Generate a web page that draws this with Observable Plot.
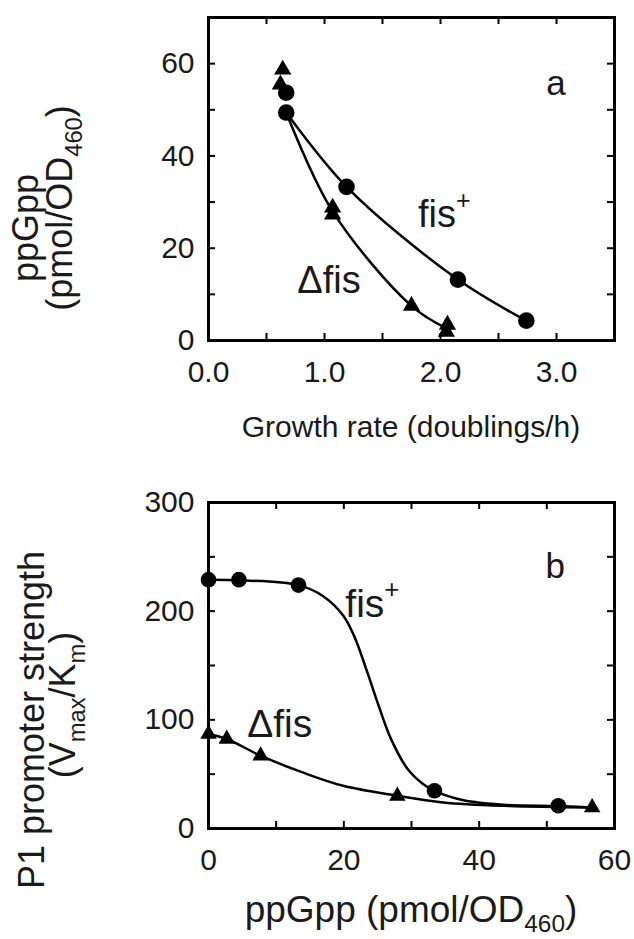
<!DOCTYPE html>
<html>
<head>
<meta charset="utf-8">
<script src="https://cdn.jsdelivr.net/npm/d3@7"></script>
<script src="https://cdn.jsdelivr.net/npm/@observablehq/plot@0.6"></script>
<style>
  html, body { margin: 0; padding: 0; background: #fff; }
  #chart { width: 634px; }
  #chart svg { display: block; }
</style>
</head>
<body>
<div id="chart"></div>
<script>
// ---------- Panel a: ppGpp level vs growth rate ----------
const aFisPlusRate   = [0.67, 0.67, 1.19, 2.15, 2.74];
const aFisPlusPpGpp  = [53.7, 49.4, 33.3, 13.2, 4.3];
const aDeltaFisRate  = [0.64, 0.62, 1.07, 1.07, 1.75, 2.06, 2.05];
const aDeltaFisPpGpp = [58.7, 55.5, 28.8, 27.3, 7.5, 3.4, 1.9];
// fitted lines
const aFisPlusFitRate   = [0.67, 1.19, 2.15, 2.74];
const aFisPlusFitPpGpp  = [49.4, 33.3, 13.2, 4.3];
const aDeltaFisFitRate  = [0.67, 1.07, 1.75, 2.06];
const aDeltaFisFitPpGpp = [49.4, 28.0, 7.5, 2.5];

const aTicksX  = [0, 0.5, 1, 1.5, 2, 2.5, 3, 3.5];
const aTicksY  = [0, 10, 20, 30, 40, 50, 60, 70];
const aLabelsX = [0, 1, 2, 3];
const aLabelsY = [0, 20, 40, 60];

// ---------- Panel b: P1 promoter strength vs ppGpp ----------
const bFisPlusPpGpp      = [0, 4.5, 13.3, 33.4, 51.7];
const bFisPlusStrength   = [229, 229, 224, 34.7, 20.9];
const bDeltaFisPpGpp     = [0, 2.7, 7.7, 27.9, 56.7];
const bDeltaFisStrength  = [87, 82.4, 67, 30, 19.4];
// fitted lines
const bFisPlusFitPpGpp    = [0, 4.5, 13.3, 16.9, 19.9, 21.6, 23.4, 25.2, 27.0, 29.4, 31.7, 33.4, 37.7, 43.6, 51.7, 56.7];
const bFisPlusFitStrength = [229, 228.5, 224, 214, 196, 176, 145, 112, 82, 55, 41, 34.7, 26, 21.8, 20.6, 19.4];
const bDeltaFisFitPpGpp    = [0, 2.7, 7.7, 13.9, 19.9, 27.9, 34.7, 43.6, 56.7];
const bDeltaFisFitStrength = [87, 82.4, 67, 51.6, 39.3, 30.1, 24, 20.9, 19.4];

const bTicksX  = [0, 10, 20, 30, 40, 50, 60];
const bTicksY  = [0, 50, 100, 150, 200, 250, 300];
const bLabelsX = [0, 20, 40, 60];
const bLabelsY = [0, 100, 200, 300];

const WIDTH = 634;
const FONT = "'Liberation Sans', Arial, Helvetica, sans-serif";
const INK = "#000";
const TEXT = "#1a1a1a";

const rows = (xs, ys) => xs.map((x, i) => ({x, y: ys[i]}));

function panel({height, marginTop, marginBottom, xDomain, yDomain, ticksX, ticksY, labelsX, labelsY, fmtX,
                circles, triangles, fits, dotR, triR}) {
  const marginLeft = 208, marginRight = 20;
  const fw = WIDTH - marginLeft - marginRight;
  const fh = height - marginTop - marginBottom;
  const tick = 7;
  const tickStyle = {stroke: INK, strokeOpacity: 1, strokeWidth: 2};
  return Plot.plot({
    width: WIDTH, height, marginTop, marginBottom, marginLeft, marginRight,
    style: {fontFamily: FONT, background: "#fff", color: TEXT, overflow: "visible"},
    x: {domain: xDomain, label: null},
    y: {domain: yDomain, label: null},
    marks: [
      // inward ticks on all four sides
      Plot.gridX(ticksX, {insetTop: fh - tick, ...tickStyle}),
      Plot.gridX(ticksX, {insetBottom: fh - tick, ...tickStyle}),
      Plot.gridY(ticksY, {insetRight: fw - tick, ...tickStyle}),
      Plot.gridY(ticksY, {insetLeft: fw - tick, ...tickStyle}),
      Plot.axisX(labelsX, {tickSize: 0, tickPadding: 20, fontSize: 30, tickFormat: fmtX, label: null}),
      Plot.axisY(labelsY, {tickSize: 0, tickPadding: 14, fontSize: 30, label: null}),
      ...fits.map(f => Plot.line(f, {x: "x", y: "y", curve: "catmull-rom", stroke: INK, strokeWidth: 2.5})),
      Plot.dot(circles, {x: "x", y: "y", r: dotR, fill: INK, symbol: "circle"}),
      Plot.dot(triangles, {x: "x", y: "y", r: triR, fill: INK, symbol: "triangle"}),
      Plot.frame({stroke: INK, strokeWidth: 3})
    ]
  });
}

const plotA = panel({
  height: 470, marginTop: 17, marginBottom: 130,
  xDomain: [0, 3.5], yDomain: [0, 70],
  ticksX: aTicksX, ticksY: aTicksY, labelsX: aLabelsX, labelsY: aLabelsY,
  fmtX: d => d.toFixed(1),
  circles: rows(aFisPlusRate, aFisPlusPpGpp),
  triangles: rows(aDeltaFisRate, aDeltaFisPpGpp),
  fits: [rows(aFisPlusFitRate, aFisPlusFitPpGpp), rows(aDeltaFisFitRate, aDeltaFisFitPpGpp)],
  dotR: 8.3, triR: 6.4
});

const plotB = panel({
  height: 469, marginTop: 32, marginBottom: 111,
  xDomain: [0, 60], yDomain: [0, 300],
  ticksX: bTicksX, ticksY: bTicksY, labelsX: bLabelsX, labelsY: bLabelsY,
  fmtX: d => String(d),
  circles: rows(bFisPlusPpGpp, bFisPlusStrength),
  triangles: rows(bDeltaFisPpGpp, bDeltaFisStrength),
  fits: [rows(bFisPlusFitPpGpp, bFisPlusFitStrength), rows(bDeltaFisFitPpGpp, bDeltaFisFitStrength)],
  dotR: 7.8, triR: 6.1
});

const chart = document.getElementById("chart");
chart.append(plotA, plotB);

// rich text with sub/superscripts; parts = [[string, "sub" | "sup" | undefined], ...]
function richText(sel, parts, size) {
  const t = sel.append("text")
    .attr("font-family", FONT)
    .attr("font-size", size)
    .attr("fill", TEXT);
  let shift = 0;
  for (const [str, kind] of parts) {
    const target = kind === "sub" ? 0.28 * size : kind === "sup" ? -0.48 * size : 0;
    t.append("tspan")
      .attr("dy", target - shift)
      .attr("font-size", kind ? 0.66 * size : size)
      .text(str);
    shift = target;
  }
  return t;
}

function scalesOf(plot) {
  const sx = plot.scale("x"), sy = plot.scale("y");
  return [d3.scaleLinear(sx.domain, sx.range), d3.scaleLinear(sy.domain, sy.range)];
}

function annotate(plot, {labels, xTitle, yTitle}) {
  const svg = d3.select(plot);
  const [sx, sy] = scalesOf(plot);
  const g = svg.append("g");
  for (const l of labels) {
    richText(g, l.parts, l.size).attr("x", sx(l.x)).attr("y", sy(l.y)).attr("text-anchor", l.anchor || "start");
  }
  // horizontal axis title, centered under the frame
  const cx = (sx.range()[0] + sx.range()[1]) / 2;
  richText(g, xTitle.parts, xTitle.size)
    .attr("text-anchor", "middle")
    .attr("transform", `translate(${cx},${sy.range()[0] + xTitle.offset})`);
  // vertical axis title (one or two lines)
  for (const line of yTitle.lines) {
    richText(g, line.parts, yTitle.size)
      .attr("text-anchor", "middle")
      .attr("transform", `translate(${line.x},${line.center}) rotate(-90)`);
  }
}

annotate(plotA, {
  labels: [
    {parts: [["a"]], x: 3.0, y: 53, size: 35, anchor: "middle"},
    {parts: [["fis"], ["+", "sup"]], x: 1.81, y: 24.5, size: 38},
    {parts: [["\u0394fis"]], x: 0.77, y: 10.2, size: 38}
  ],
  xTitle: {parts: [["Growth rate (doublings/h)"]], size: 30, offset: 97},
  yTitle: {size: 36, lines: [
    {x: 38, center: 228, parts: [["ppGpp"]]},
    {x: 72, center: 208, parts: [["(pmol/OD"], ["460", "sub"], [")"]]}
  ]}
});

annotate(plotB, {
  labels: [
    {parts: [["b"]], x: 51.3, y: 230, size: 35, anchor: "middle"},
    {parts: [["fis"], ["+", "sup"]], x: 20.3, y: 194, size: 39},
    {parts: [["\u0394fis"]], x: 5.8, y: 84, size: 39}
  ],
  xTitle: {parts: [["ppGpp (pmol/OD"], ["460", "sub"], [")"]], size: 37, offset: 94},
  yTitle: {size: 36, lines: [
    {x: 44, center: 250, parts: [["P1 promoter strength"]]},
    {x: 75, center: 235, parts: [["(V"], ["max", "sub"], ["/K"], ["m", "sub"], [")"]]}
  ]}
});
</script>
</body>
</html>
